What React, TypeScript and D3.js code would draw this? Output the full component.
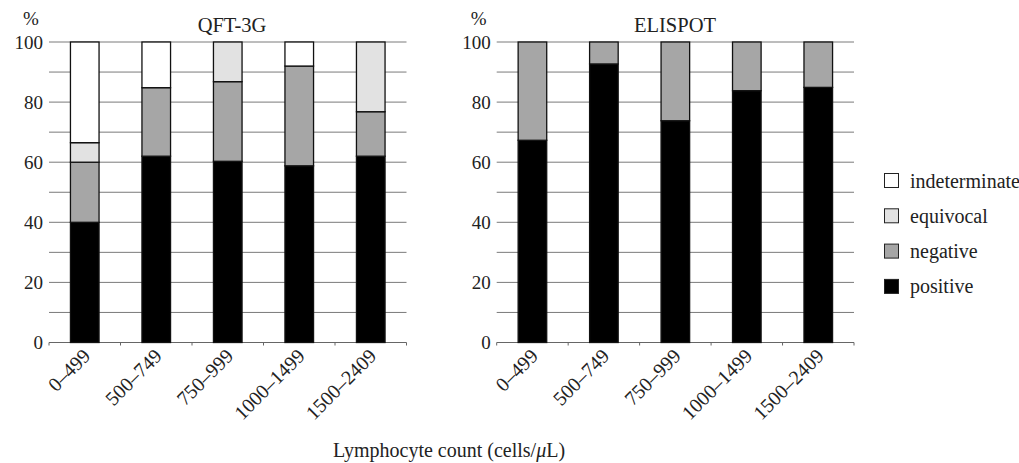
import React from "react";
import * as d3 from "d3";

const categories = ["0–499", "500–749", "750–999", "1000–1499", "1500–2409"];
const seriesNames = ["positive", "negative", "equivocal", "indeterminate"];
const legendOrder = ["indeterminate", "equivocal", "negative", "positive"];

// QFT-3G (%)
const qftPositive = [40, 62, 60.3, 58.8, 62];
const qftNegative = [20, 22.8, 26.5, 33.2, 14.8];
const qftEquivocal = [6.5, 0, 13.2, 0, 23.2];
const qftIndeterminate = [33.5, 15.2, 0, 8, 0];

// ELISPOT (%)
const eliPositive = [67.3, 92.7, 73.8, 83.8, 84.9];
const eliNegative = [32.7, 7.3, 26.2, 16.2, 15.1];
const eliEquivocal = [0, 0, 0, 0, 0];
const eliIndeterminate = [0, 0, 0, 0, 0];

const yTicks = [0, 20, 40, 60, 80, 100];
const gridValues = [10, 20, 30, 40, 50, 60, 70, 80, 90, 100];

const colors: Record<string, string> = {
  positive: "#000000",
  negative: "#a6a6a6",
  equivocal: "#e2e2e2",
  indeterminate: "#ffffff",
};

const FONT = "Liberation Serif, Times New Roman, DejaVu Serif, serif";
const txt = { fontFamily: FONT } as React.CSSProperties;

type Panel = {
  title: string;
  x0: number;
  x1: number;
  titleX: number;
  data: number[][];
};

const panels: Panel[] = [
  { title: "QFT-3G", x0: 49, x1: 406.5, titleX: 232, data: [qftPositive, qftNegative, qftEquivocal, qftIndeterminate] },
  { title: "ELISPOT", x0: 496.7, x1: 854, titleX: 675, data: [eliPositive, eliNegative, eliEquivocal, eliIndeterminate] },
];

const yTop = 42;
const yBottom = 342.5;

function PanelView({ p }: { p: Panel }) {
  const x = d3.scaleBand<string>().domain(categories).range([p.x0, p.x1]).paddingInner(0.6).paddingOuter(0.3);
  const y = d3.scaleLinear().domain([0, 100]).range([yBottom, yTop]);
  const rows = categories.map((c, i) => {
    const o: any = { cat: c };
    seriesNames.forEach((s, k) => (o[s] = p.data[k][i]));
    return o;
  });
  const stacked = d3.stack<any>().keys(seriesNames)(rows);
  const step = x.step();
  const bounds = d3.range(categories.length + 1).map((i) => p.x0 + i * step);
  return (
    <g>
      {gridValues.map((v) => (
        <line key={v} x1={p.x0} x2={p.x1} y1={y(v)} y2={y(v)} stroke="#7a7a7a" strokeWidth={1} />
      ))}
      <line x1={p.x0} x2={p.x1} y1={y(0)} y2={y(0)} stroke="#666" strokeWidth={1.2} />
      {bounds.map((b, i) => (
        <line key={i} x1={b} x2={b} y1={y(0)} y2={y(0) + 3} stroke="#666" strokeWidth={1} />
      ))}
      {yTicks.map((t) => (
        <text key={t} x={p.x0 - 6} y={y(t)} dy="0.35em" textAnchor="end" style={txt} fontSize={19} fill="#222">
          {t}
        </text>
      ))}
      <text x={p.x0 - 18} y={25} textAnchor="middle" style={txt} fontSize={19} fill="#222">%</text>
      <text x={p.titleX} y={32} textAnchor="middle" style={txt} fontSize={20.5} fill="#222">{p.title}</text>
      {stacked.map((layer) =>
        layer.map((d, i) =>
          d[1] - d[0] > 0 ? (
            <rect
              key={layer.key + i}
              x={x(categories[i])!}
              width={x.bandwidth()}
              y={y(d[1])}
              height={y(d[0]) - y(d[1])}
              fill={colors[layer.key]}
              stroke="#111"
              strokeWidth={1.3}
            />
          ) : null
        )
      )}
      {categories.map((c) => {
        const cx = x(c)! + x.bandwidth() / 2 - 2;
        const cy = yBottom + 6;
        return (
          <text
            key={c}
            transform={`translate(${cx},${cy}) rotate(-45)`}
            textAnchor="end"
            dy="0.62em"
            style={txt}
            fontSize={20}
            fill="#222"
          >
            {c}
          </text>
        );
      })}
    </g>
  );
}

export default function App() {
  return (
    <svg width={1019} height={463} style={{ position: "absolute", left: 0, top: 0, background: "#fff" }}>
      <rect width={1019} height={463} fill="#fff" />
      {panels.map((p) => (
        <PanelView key={p.title} p={p} />
      ))}
      <text x={449} y={457} textAnchor="middle" style={txt} fontSize={20} fill="#222">
        Lymphocyte count (cells/<tspan fontStyle="italic">μ</tspan>L)
      </text>
      {legendOrder.map((s, i) => (
        <g key={s} transform={`translate(884,${173 + i * 35.3})`}>
          <rect x={0.5} y={0.5} width={14} height={14} fill={colors[s]} stroke="#222" strokeWidth={1} />
          <text x={26} y={7.5} dy="0.35em" style={txt} fontSize={20} fill="#222">{s}</text>
        </g>
      ))}
    </svg>
  );
}
